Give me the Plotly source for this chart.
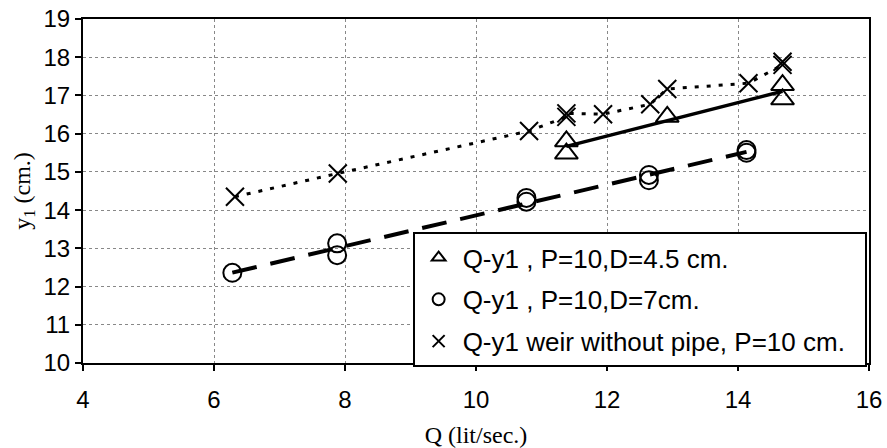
import numpy as np
import plotly.graph_objects as go

# Data
q_tri = [11.38, 11.38, 12.92, 14.68, 14.68]
y_tri = [15.48, 15.80, 16.44, 16.90, 17.27]

q_circ = [6.28, 7.88, 7.88, 10.77, 10.77, 12.64, 12.64, 14.13, 14.13]
y_circ = [12.36, 12.82, 13.13, 14.22, 14.32, 14.78, 14.92, 15.50, 15.57]

q_x = [6.32, 7.89, 10.81, 11.38, 11.38, 11.94, 12.66, 12.92, 14.16, 14.68, 14.68]
y_x = [14.35, 14.96, 16.07, 16.44, 16.53, 16.51, 16.77, 17.17, 17.32, 17.80, 17.88]

names = ["Q-y1 , P=10,D=4.5 cm.", "Q-y1 , P=10,D=7cm.", "Q-y1 weir without pipe, P=10 cm.\u00a0\u00a0"]

x_ticks = [4, 6, 8, 10, 12, 14, 16]
y_ticks = [10, 11, 12, 13, 14, 15, 16, 17, 18, 19]


def fit_line(xs, ys):
    k, b = np.polyfit(xs, ys, 1)
    xe = np.array([min(xs), max(xs)])
    return xe, k * xe + b


fig = go.Figure()

# trend lines
xt, yt = fit_line(q_tri, y_tri)
fig.add_trace(go.Scatter(x=xt, y=yt, mode="lines", showlegend=False,
                         line=dict(color="black", width=3.5), hoverinfo="skip"))
xc, yc = fit_line(q_circ, y_circ)
fig.add_trace(go.Scatter(x=xc, y=yc, mode="lines", showlegend=False,
                         line=dict(color="black", width=4, dash="25px,14px"), hoverinfo="skip"))
fig.add_trace(go.Scatter(x=q_x, y=y_x, mode="lines", showlegend=False,
                         line=dict(color="black", width=3, dash="4px,8px"), hoverinfo="skip"))

# markers
fig.add_trace(go.Scatter(x=q_tri, y=y_tri, mode="markers", name=names[0], legendgroup="a",
                         marker=dict(symbol="triangle-up-open", size=20, color="black",
                                     line=dict(width=2, color="black"))))
fig.add_trace(go.Scatter(x=q_circ, y=y_circ, mode="markers", name=names[1], legendgroup="b",
                         marker=dict(symbol="circle-open", size=18, color="black",
                                     line=dict(width=2, color="black"))))
fig.add_trace(go.Scatter(x=q_x, y=y_x, mode="markers", name=names[2], legendgroup="c",
                         marker=dict(symbol="x-thin-open", size=18, color="black",
                                     line=dict(width=2, color="black"))))

tickfont = dict(family="Liberation Sans, Arial", size=24, color="black")
titlefont = dict(family="Liberation Serif, Times New Roman", size=24, color="black")

fig.update_layout(
    width=887, height=448,
    margin=dict(l=83, r=18, t=19, b=85, autoexpand=False),
    paper_bgcolor="white", plot_bgcolor="white",
    legend=dict(
        x=0.997, xanchor="right", y=-0.012, yanchor="bottom",
        bgcolor="white", bordercolor="black", borderwidth=2,
        font=dict(family="Liberation Sans, Arial", size=26, color="black"),
        itemsizing="constant", tracegroupgap=5, itemwidth=38,
    ),
)

fig.update_xaxes(
    range=[4, 16], tickvals=x_ticks, ticktext=[str(v) for v in x_ticks],
    showline=True, linecolor="black", linewidth=2, mirror=True,
    ticks="outside", ticklen=6, tickwidth=2, tickcolor="black",
    ticklabelstandoff=8, automargin=False,
    showgrid=True, gridcolor="#888888", gridwidth=1, griddash="dot",
    zeroline=False, tickfont=tickfont,
    title=dict(text="Q (lit/sec.)", font=titlefont, standoff=16),
)
fig.update_yaxes(
    range=[10, 19], tickvals=y_ticks, ticktext=[str(v) for v in y_ticks],
    showline=True, linecolor="black", linewidth=2, mirror=True,
    ticks="outside", ticklen=6, tickwidth=2, tickcolor="black",
    ticklabelstandoff=0, automargin=False,
    showgrid=True, gridcolor="#888888", gridwidth=1, griddash="dot",
    zeroline=False, tickfont=tickfont,
    title=dict(text="y<sub>1</sub> (cm.)", font=titlefont, standoff=6),
)

fig.write_html("out.html", config={"displayModeBar": False},
               post_script="document.body.style.margin='0';")
